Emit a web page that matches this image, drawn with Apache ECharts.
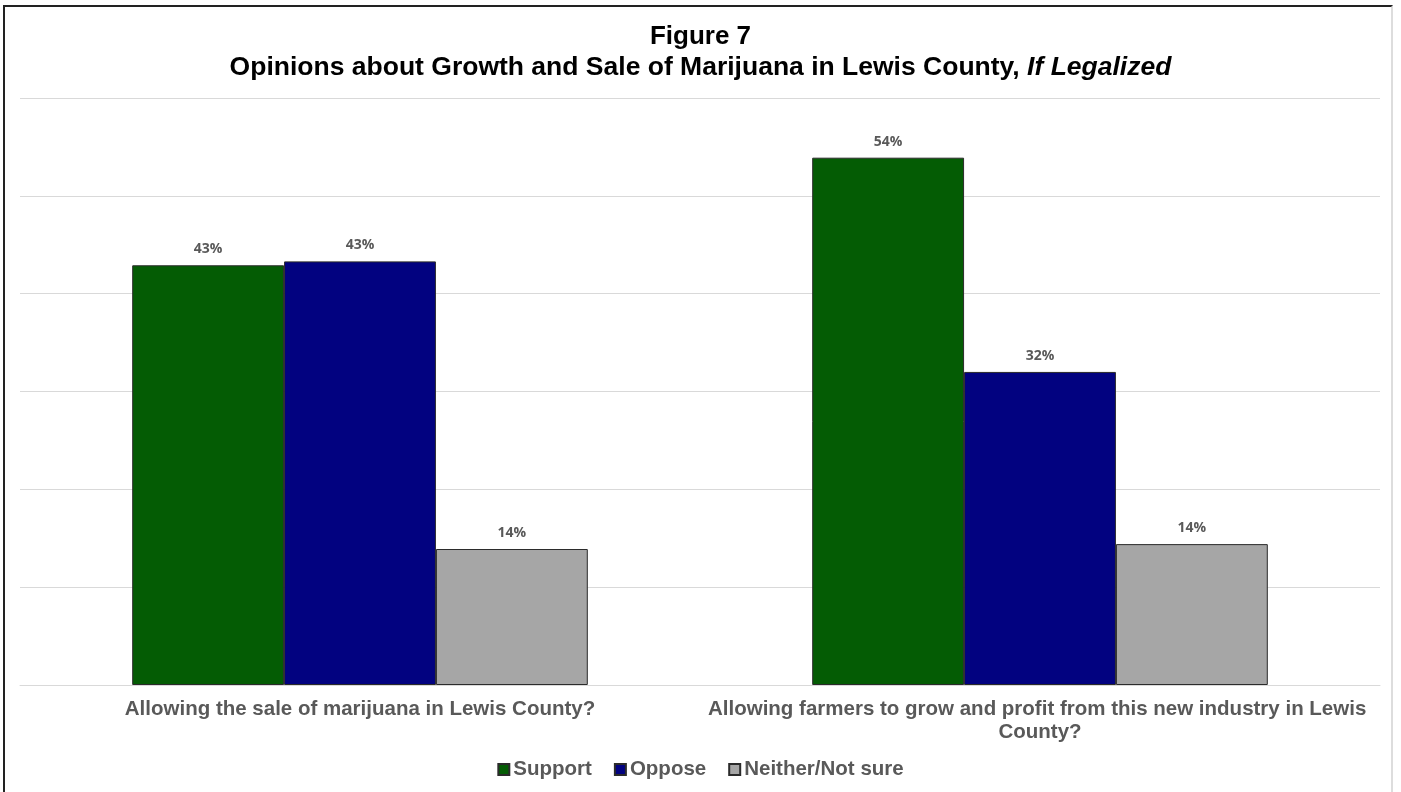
<!DOCTYPE html>
<html>
<head>
<meta charset="utf-8">
<script src="https://cdn.jsdelivr.net/npm/echarts@6/dist/echarts.min.js"></script>
<style>
  html, body { margin: 0; padding: 0; background: #fff; }
  #frame { position: absolute; left: 3px; top: 5px; width: 1390px; height: 800px;
           border-left: 2px solid #222; border-top: 2px solid #222; border-right: 2px solid #ddd; box-sizing: border-box; }
  #chart { position: absolute; left: 0; top: 0; width: 1401px; height: 792px; }
</style>
</head>
<body>
<div id="frame"></div>
<div id="chart"></div>
<script>
const categories = [
  'Allowing the sale of marijuana in Lewis County?',
  'Allowing farmers to grow and profit from this new industry in Lewis County?'
];
const seriesNames = ['Support', 'Oppose', 'Neither/Not sure'];
const supportValues = [42.9, 53.9];
const opposeValues = [43.3, 32.0];
const neitherValues = [13.9, 14.4];
const colors = ['#045c04', '#020280', '#a6a6a6'];

const labelFont = 'Liberation Sans, Arial, sans-serif';

function barSeries(name, data, color) {
  return {
    name: name,
    type: 'bar',
    data: data,
    barGap: '0%',
    barCategoryGap: '33%',
    itemStyle: { color: color, borderColor: '#2b2b2b', borderWidth: 1 },
    label: {
      show: true,
      position: 'top',
      distance: 9,
      color: '#595959',
      fontFamily: 'Open Sans, sans-serif',
      fontWeight: 'bold',
      fontSize: 14,
      formatter: p => Math.round(p.value) + '%'
    }
  };
}

const chart = echarts.init(document.getElementById('chart'));
chart.setOption({
  backgroundColor: 'transparent',
  animation: false,
  title: {
    text: 'Figure 7',
    subtext: '{n|Opinions about Growth and Sale of Marijuana in Lewis County, }{i|If Legalized}',
    left: 'center',
    top: 19,
    itemGap: 4,
    textStyle: { fontFamily: labelFont, fontWeight: 'bold', fontSize: 26, color: '#000' },
    subtextStyle: {
      rich: {
        n: { fontFamily: labelFont, fontWeight: 'bold', fontSize: 26.5, color: '#000' },
        i: { fontFamily: labelFont, fontWeight: 'bold', fontStyle: 'italic', fontSize: 26.5, color: '#000' }
      }
    }
  },
  legend: {
    data: seriesNames,
    top: 754,
    left: 'center',
    itemWidth: 11,
    itemHeight: 11,
    itemGap: 22,
    icon: 'rect',
    textStyle: { fontFamily: labelFont, fontWeight: 'bold', fontSize: 20.5, color: '#595959', padding: [0, 0, 0, -1] }
  },
  grid: { left: 20, right: 21, top: 98, bottom: 107, containLabel: false },
  xAxis: {
    type: 'category',
    data: categories,
    axisLine: { show: true, lineStyle: { color: '#d9d9d9', width: 1 } },
    axisTick: { show: false },
    axisLabel: {
      interval: 0,
      margin: 13,
      width: 672,
      overflow: 'break',
      lineHeight: 23,
      fontFamily: labelFont,
      fontWeight: 'bold',
      fontSize: 20.5,
      color: '#595959'
    }
  },
  yAxis: {
    type: 'value',
    min: 0,
    max: 60,
    interval: 10,
    axisLabel: { show: false },
    axisLine: { show: false },
    axisTick: { show: false },
    splitLine: { lineStyle: { color: '#d9d9d9', width: 1 } }
  },
  series: [
    barSeries(seriesNames[0], supportValues, colors[0]),
    barSeries(seriesNames[1], opposeValues, colors[1]),
    barSeries(seriesNames[2], neitherValues, colors[2])
  ]
});
</script>
</body>
</html>
